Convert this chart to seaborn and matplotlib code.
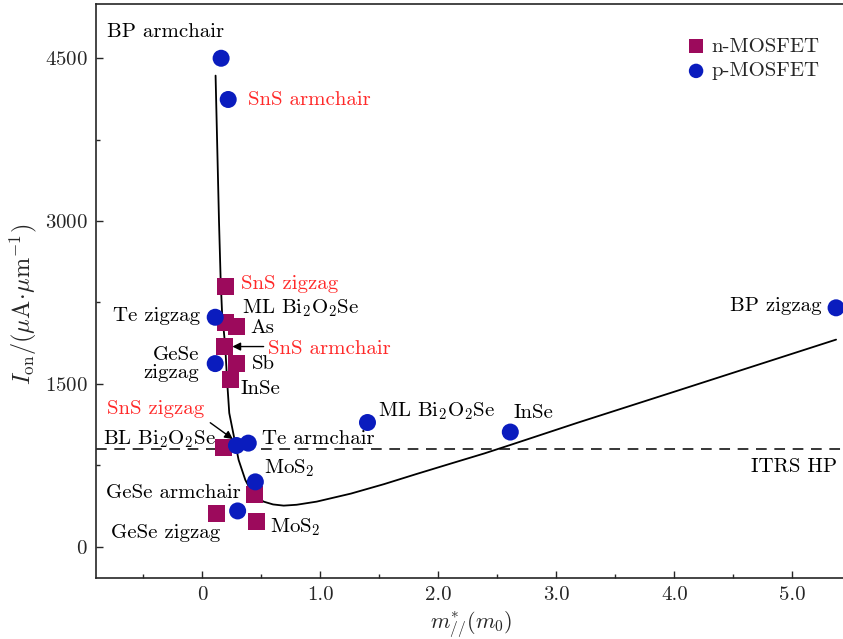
import matplotlib
matplotlib.use("Agg")
import matplotlib.pyplot as plt
import seaborn as sns
import pandas as pd
from matplotlib.ticker import MultipleLocator, FixedLocator

# Effective mass (m0) and on-current (uA/um) for each device
n_names = ["SnS zigzag", "ML Bi2O2Se", "As", "SnS armchair", "Sb", "InSe",
           "BL Bi2O2Se", "GeSe armchair", "GeSe zigzag", "MoS2"]
n_mass = [0.20, 0.20, 0.29, 0.19, 0.29, 0.24, 0.18, 0.44, 0.12, 0.46]
n_ion = [2400, 2067, 2025, 1846, 1683, 1538, 916, 482, 300, 229]

p_names = ["BP armchair", "SnS armchair", "Te zigzag", "GeSe zigzag", "SnS zigzag",
           "Te armchair", "MoS2", "GeSe armchair", "ML Bi2O2Se", "InSe", "BP zigzag"]
p_mass = [0.16, 0.22, 0.11, 0.11, 0.29, 0.39, 0.45, 0.30, 1.40, 2.61, 5.37]
p_ion = [4500, 4120, 2113, 1686, 931, 953, 596, 328, 1143, 1055, 2200]

# Trend curve read along its path
curve_mass = [0.113, 0.142, 0.156, 0.168, 0.195, 0.210, 0.229, 0.274, 0.308, 0.365,
              0.43, 0.52, 0.60, 0.69, 0.80, 0.97, 1.26, 1.54, 1.82, 2.11, 2.39,
              2.61, 3.18, 4.00, 5.37]
curve_ion = [4340, 3000, 2460, 2154, 1845, 1538, 1230, 984, 799, 614,
             480, 414, 388, 377, 385, 414, 488, 575, 670, 766, 858,
             936, 1141, 1427, 1907]

itrs_hp = 900

sns.set_style("ticks")
plt.rcParams["font.family"] = ["cmr10"]
plt.rcParams["mathtext.fontset"] = "cm"
plt.rcParams["axes.formatter.use_mathtext"] = True
plt.rcParams["axes.unicode_minus"] = False

BLUE = "#0A1CBE"
MAROON = "#9C0A5C"
RED = "#FF2A2A"
FS = 15

fig = plt.figure(figsize=(8.43, 6.39), dpi=100)
ax = fig.add_axes([96 / 843, 1 - 578 / 639, 1.003 - 96 / 843, (578 - 4) / 639])

df_n = pd.DataFrame({"m": n_mass, "I": n_ion})
df_p = pd.DataFrame({"m": p_mass, "I": p_ion})
df_c = pd.DataFrame({"m": curve_mass, "I": curve_ion})

sns.lineplot(data=df_c, x="m", y="I", ax=ax, color="black", lw=1.3,
             estimator=None, sort=False, zorder=2)
ax.axhline(itrs_hp, color="black", lw=1.1, ls=(0, (7, 5)), zorder=1)

sns.scatterplot(data=df_n, x="m", y="I", ax=ax, marker="s", s=150, color=MAROON,
                edgecolor="none", label="n-MOSFET", zorder=3)
sns.scatterplot(data=df_p, x="m", y="I", ax=ax, marker="o", s=150, color=BLUE,
                edgecolor="none", label="p-MOSFET", zorder=4)

ax.set_xlim(-0.90, 5.45)
ax.set_ylim(-290, 5000)

ax.xaxis.set_major_locator(FixedLocator([0, 1, 2, 3, 4, 5]))
ax.set_xticklabels(["0", "1.0", "2.0", "3.0", "4.0", "5.0"])
ax.xaxis.set_minor_locator(MultipleLocator(0.5))
ax.yaxis.set_major_locator(FixedLocator([0, 1500, 3000, 4500]))
ax.yaxis.set_minor_locator(MultipleLocator(750))
ax.tick_params(which="both", direction="in", top=False, right=False, labelsize=FS)
ax.tick_params(which="major", length=5, width=1, pad=6)
ax.tick_params(which="minor", length=3, width=1)
for sp in ax.spines.values():
    sp.set_linewidth(1.2)

ax.set_xlabel(r"$m^{*}_{//}(m_0)$", fontsize=FS + 1, labelpad=4)
ax.set_ylabel(r"$I_{\rm on}/(\mu{\rm A}\!\cdot\!\mu{\rm m}^{-1})$", fontsize=FS + 2.5)
ax.yaxis.set_label_coords(-0.076, 0.476)

# Device labels: (text, x, y, ha, colour)
labels = [
    ("BP armchair", -0.806, 4743, "left", "black"),
    ("SnS armchair", 0.39, 4115, "left", RED),
    ("SnS zigzag", 0.33, 2415, "left", RED),
    (r"ML Bi$_2$O$_2$Se", 0.34, 2194, "left", "black"),
    ("Te zigzag", -0.017, 2120, "right", "black"),
    ("As", 0.41, 2018, "left", "black"),
    ("SnS armchair", 0.56, 1824, "left", RED),
    ("GeSe\nzigzag", -0.025, 1686, "right", "black"),
    ("Sb", 0.42, 1686, "left", "black"),
    ("InSe", 0.32, 1455, "left", "black"),
    ("SnS zigzag", -0.806, 1270, "left", RED),
    (r"BL Bi$_2$O$_2$Se", -0.84, 993, "left", "black"),
    ("Te armchair", 0.51, 993, "left", "black"),
    (r"MoS$_2$", 0.52, 725, "left", "black"),
    ("GeSe armchair", -0.815, 494, "left", "black"),
    ("GeSe zigzag", -0.77, 125, "left", "black"),
    (r"MoS$_2$", 0.57, 180, "left", "black"),
    (r"ML Bi$_2$O$_2$Se", 1.49, 1251, "left", "black"),
    ("InSe", 2.64, 1233, "left", "black"),
    ("BP zigzag", 5.25, 2221, "right", "black"),
    ("ITRS HP", 5.38, 734, "right", "black"),
]
for txt, x, y, ha, col in labels:
    ax.text(x, y, txt, ha=ha, va="center", color=col, fontsize=FS,
            multialignment="right", linespacing=1.0)

arrow = dict(arrowstyle="-|>", color="black", lw=1.0, mutation_scale=12,
             shrinkA=0, shrinkB=0)
ax.annotate("", xy=(0.255, 1843), xytext=(0.52, 1843), arrowprops=arrow)
ax.annotate("", xy=(0.26, 990), xytext=(0.068, 1141), arrowprops=arrow)

leg = ax.legend(loc="upper right", bbox_to_anchor=(0.985, 0.968), frameon=False,
                fontsize=FS, handlelength=1.2, handletextpad=0.15, labelspacing=0.3,
                borderaxespad=0.3, markerscale=0.85)

fig.savefig("out.png", dpi=100)
